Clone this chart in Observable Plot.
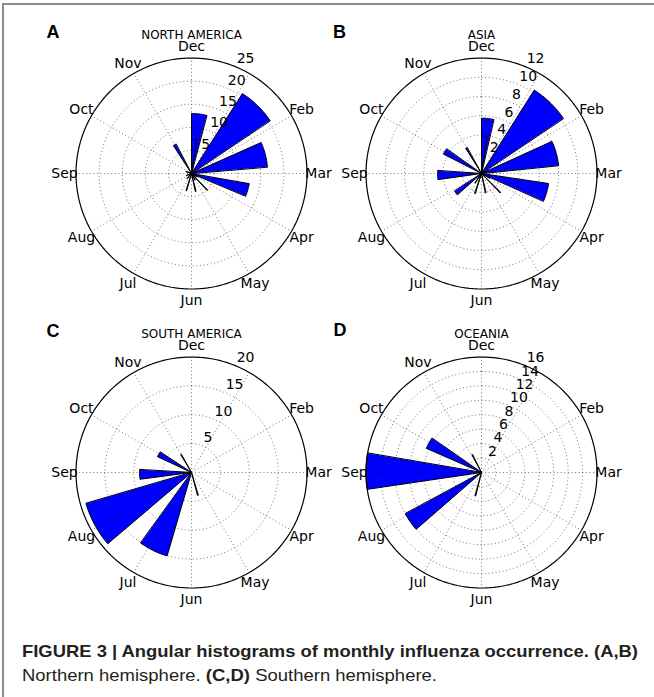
<!DOCTYPE html>
<html>
<head>
<meta charset="utf-8">
<script src="https://cdn.jsdelivr.net/npm/d3@7"></script>
<script src="https://cdn.jsdelivr.net/npm/@observablehq/plot@0.6"></script>
<style>
  html, body { margin: 0; padding: 0; background: #fff; }
  #page { position: relative; width: 654px; height: 697px; overflow: hidden; background: #fff; }
  #page > svg.sheet { position: absolute; left: 0; top: 0; }
  .panel { position: absolute; }
</style>
</head>
<body>
<div id="page"></div>
<script>
// Month names around each dial, clockwise from the top (Jan is left unlabelled)
const monthLabels = ["Dec", "", "Feb", "Mar", "Apr", "May", "Jun", "Jul", "Aug", "Sep", "Oct", "Nov"];

// Wedges are given as start / end positions in months clockwise from Dec, plus the count

// (A) North America
const naStart = [0, 0, 1.083, 2.2, 3.333, 10.9, 4.52, 5.52, 6.52, 3.95, 5.0, 7.3, 8.2, 9.6];
const naEnd   = [0.487, 0.27, 1.867, 2.833, 3.75, 11.067, 4.56, 5.56, 6.56, 3.98, 5.03, 7.33, 8.23, 9.63];
const naCount = [13.0, 7.4, 20.5, 16.5, 12.7, 7.2, 5.0, 4.0, 3.9, 1.4, 1.6, 1.5, 1.2, 1.3];
const naTicks = [5, 10, 15, 20, 25];

// (B) Asia
const asStart = [0, 0, 1.077, 2.183, 3.283, 8.733, 9.9, 7.617, 10.93, 4.48, 5.55, 6.57, 3.9, 7.1];
const asEnd   = [0.423, 0.273, 1.867, 2.8, 3.8, 9.117, 10.167, 7.883, 11.02, 4.52, 5.59, 6.61, 3.93, 7.13];
const asCount = [5.75, 3.85, 10.25, 8.05, 7.05, 4.57, 4.45, 3.35, 3.1, 2.8, 2.05, 2.2, 1.0, 1.2];
const asTicks = [2, 4, 6, 8, 10, 12];

// (C) South America
const saStart = [7.653, 6.543, 8.75, 9.833, 10.96, 5.44];
const saEnd   = [8.453, 7.19, 9.1, 10.1, 11.0, 5.48];
const saCount = [19.05, 15.05, 9.0, 6.5, 3.6, 4.1];
const saTicks = [5, 10, 15, 20];

// (D) Oceania
const ocStart = [8.72, 9.787, 7.633, 11.05, 6.46];
const ocEnd   = [9.32, 10.153, 8.05, 11.09, 6.5];
const ocCount = [16.0, 8.35, 12.0, 2.8, 3.35];
const ocTicks = [2, 4, 6, 8, 10, 12, 14, 16];

const panels = [
  {letter: "A", title: "NORTH AMERICA", start: naStart, end: naEnd, count: naCount, ticks: naTicks, cx: 190.5, cy: 172.5},
  {letter: "B", title: "ASIA", start: asStart, end: asEnd, count: asCount, ticks: asTicks, cx: 480.5, cy: 172.5},
  {letter: "C", title: "SOUTH AMERICA", start: saStart, end: saEnd, count: saCount, ticks: saTicks, cx: 190.5, cy: 472},
  {letter: "D", title: "OCEANIA", start: ocStart, end: ocEnd, count: ocCount, ticks: ocTicks, cx: 480.5, cy: 471.5}
];

const W = 290, H = 300, R = 115.5;  // panel size and dial radius in px
const theta = d3.scaleLinear().domain([0, 12]).range([0, 2 * Math.PI]); // months -> angle
const px = (m, r) => r * Math.sin(theta(m));
const py = (m, r) => r * Math.cos(theta(m));

function polarPanel({title, start, end, count, ticks}) {
  const rmax = ticks[ticks.length - 1];
  const cx = W / 2, cy = H / 2;

  // wedge outlines: centre -> arc at the count -> back to centre
  const wedges = [];
  start.forEach((s, i) => {
    const e = end[i], r = count[i];
    wedges.push({id: i, x: 0, y: 0});
    const n = Math.max(2, Math.ceil((e - s) * 30));
    for (let k = 0; k <= n; k++) {
      const m = s + (e - s) * k / n;
      wedges.push({id: i, x: px(m, r), y: py(m, r)});
    }
  });

  const ring = (r) => d3.range(0, 361, 2).map(a => ({id: r, x: px(a / 30, r), y: py(a / 30, r)}));
  const rings = ticks.slice(0, -1).flatMap(ring);
  const outer = ring(rmax);
  const spokes = d3.range(12).map(m => ({x2: px(m, rmax), y2: py(m, rmax)}));
  const monthText = monthLabels.map((label, m) => ({label, x: px(m, 1.1 * rmax), y: py(m, 1.1 * rmax)}));
  const tickText = ticks.map(t => ({label: String(t), x: px(0.75, t), y: py(0.75, t)}));

  return Plot.plot({
    width: W, height: H, margin: 0,
    x: {domain: [-rmax, rmax], range: [cx - R, cx + R], axis: null},
    y: {domain: [-rmax, rmax], range: [cy + R, cy - R], axis: null},
    style: {fontFamily: "'DejaVu Sans', sans-serif", color: "#000", background: "transparent", overflow: "visible"},
    marks: [
      Plot.line(wedges, {x: "x", y: "y", z: "id", curve: "linear-closed", fill: "#0000ff", stroke: "#000", strokeWidth: 1, strokeLinejoin: "miter"}),
      Plot.line(rings, {x: "x", y: "y", z: "id", curve: "linear-closed", stroke: "#000", strokeOpacity: 0.6, strokeWidth: 0.9, strokeDasharray: "1,2.6", strokeLinecap: "butt"}),
      Plot.link(spokes, {x1: 0, y1: 0, x2: "x2", y2: "y2", stroke: "#000", strokeOpacity: 0.6, strokeWidth: 0.9, strokeDasharray: "1,2.6"}),
      Plot.line(outer, {x: "x", y: "y", curve: "linear-closed", stroke: "#000", strokeWidth: 1.2}),
      Plot.text(monthText, {x: "x", y: "y", text: "label", fontSize: 14, textAnchor: "middle", fill: "#000"}),
      Plot.text(tickText, {x: "x", y: "y", text: "label", fontSize: 14, textAnchor: "start", dx: 1, dy: -8, fill: "#000"}),
      Plot.text([title], {frameAnchor: "top", lineAnchor: "middle", text: d => d, dy: 12, fontSize: 12, fill: "#000"})
    ]
  });
}

const page = document.getElementById("page");

// sheet: frame lines, panel letters and caption
const ns = "http://www.w3.org/2000/svg";
const sheet = document.createElementNS(ns, "svg");
sheet.setAttribute("class", "sheet");
sheet.setAttribute("width", 654);
sheet.setAttribute("height", 697);
sheet.innerHTML = `
  <line x1="2" y1="4" x2="654" y2="4" stroke="#8c8c8c" stroke-width="2"/>
  <line x1="3" y1="4" x2="3" y2="697" stroke="#8c8c8c" stroke-width="2"/>
  <g font-family="'Liberation Sans', Arial, sans-serif" font-weight="bold" font-size="18" fill="#000">
    <text x="46.5" y="37.5">A</text>
    <text x="333" y="37.5">B</text>
    <text x="46.5" y="336.5">C</text>
    <text x="333.5" y="335.5">D</text>
  </g>
  <g font-family="'Liberation Sans', Arial, sans-serif" font-size="17" fill="#231f20">
    <text x="22" y="657" font-weight="bold" textLength="616" lengthAdjust="spacingAndGlyphs">FIGURE 3 | Angular histograms of monthly influenza occurrence. (A,B)</text>
    <text x="22" y="681" textLength="415" lengthAdjust="spacingAndGlyphs">Northern hemisphere. <tspan font-weight="bold">(C,D)</tspan> Southern hemisphere.</text>
  </g>`;
page.appendChild(sheet);

for (const p of panels) {
  const holder = document.createElement("div");
  holder.className = "panel";
  holder.style.left = (p.cx - W / 2) + "px";
  holder.style.top = (p.cy - H / 2) + "px";
  holder.appendChild(polarPanel(p));
  page.appendChild(holder);
}
</script>
</body>
</html>
